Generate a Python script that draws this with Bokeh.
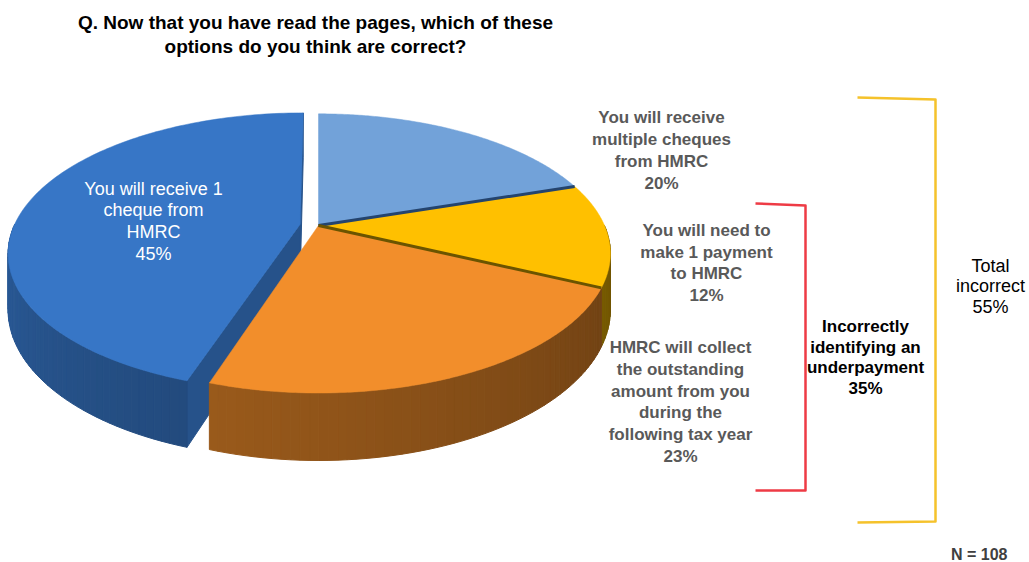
import numpy as np
from bokeh.plotting import figure
from bokeh.models import Range1d, ColumnDataSource
from bokeh.core.properties import value
from bokeh.embed import file_html
from bokeh.resources import INLINE

# ---------------- data ----------------
# slices in clockwise order starting at 12 o'clock
slice_names = [
    "You will receive multiple cheques from HMRC",
    "You will need to make 1 payment to HMRC",
    "HMRC will collect the outstanding amount from you during the following tax year",
    "You will receive 1 cheque from HMRC",
]
slice_pct = [20, 12, 23, 45]
slice_top_colors = ["#72A2D9", "#FFC000", "#F28E2B", "#3776C6"]
slice_explode = [0.0, 0.0, 0.0, 0.065]

label_lines = [
    ["You will receive", "multiple cheques", "from HMRC", "20%"],
    ["You will need to", "make 1 payment", "to HMRC", "12%"],
    ["HMRC will collect", "the outstanding", "amount from you", "during the", "following tax year", "23%"],
    ["You will receive 1", "cheque from", "HMRC", "45%"],
]

title_lines = ["Q. Now that you have read the pages, which of these", "options do you think are correct?"]
group1_lines = ["Incorrectly", "identifying an", "underpayment", "35%"]
group2_lines = ["Total", "incorrect", "55%"]
base_note = "N = 108"

# ---------------- layout / style ----------------
W, H = 1029, 562
cx, cy0, A, B, K, D = 318, 225, 286, 134, 0.2, 54   # 3D pie projection
label_pos = [(661, 117, 22), (706, 230, 21.5), (680, 347, 21.8), (153, 188, 21.7)]
label_colors = ["#595959", "#595959", "#595959", "#FFFFFF"]
label_styles = ["bold", "bold", "bold", "normal"]
label_sizes = ["17px", "17px", "17px", "18px"]
FONT = value("Liberation Sans")

p = figure(width=W, height=H, x_range=Range1d(0, W), y_range=Range1d(H, 0),
           output_backend="svg", toolbar_location=None, min_border=0)
p.axis.visible = False
p.grid.visible = False
p.outline_line_color = None
p.background_fill_color = "white"
p.border_fill_color = "white"


def shade(hexcol, f):
    r, g, b = int(hexcol[1:3], 16), int(hexcol[3:5], 16), int(hexcol[5:7], 16)
    return "#%02x%02x%02x" % (int(r * f), int(g * f), int(b * f))


def proj(X, Y, z=0.0):
    s = 1.0 / (1.0 + K * Y)
    return cx + A * X * s, cy0 - B * Y * s + D * z * s


def rim(theta, dX, dY):
    t = np.radians(theta)
    return np.cos(t) + dX, np.sin(t) + dY


# angular extents
angles = []
start = 90.0
for v in slice_pct:
    t1 = start
    t2 = start - v * 3.6
    angles.append((t2, t1))
    start = t2

offsets = []
for (t2, t1), e in zip(angles, slice_explode):
    mid = np.radians((t1 + t2) / 2)
    offsets.append((e * np.cos(mid), e * np.sin(mid)))

# --- side pieces: radial cut faces of exploded slices + outer wall strips ---
pieces = []  # (depth key, xs, ys, color)
for i, ((t2, t1), (dX, dY)) in enumerate(zip(angles, offsets)):
    if slice_explode[i] > 0:
        for th in (t1, t2):
            RX, RY = rim(th, dX, dY)
            p0 = proj(dX, dY, 0); p1 = proj(RX, RY, 0)
            p2 = proj(RX, RY, 1); p3 = proj(dX, dY, 1)
            pieces.append(((dY + RY) / 2, [p0[0], p1[0], p2[0], p3[0]],
                           [p0[1], p1[1], p2[1], p3[1]], shade(slice_top_colors[i], 0.70)))
    for lo, hi in ((-180, 0), (-540, -360)):
        a0, a1 = max(t2, lo), min(t1, hi)
        if a1 <= a0:
            continue
        n = max(2, int((a1 - a0) / 1.5) + 1)
        ths = np.linspace(a0, a1, n)
        for j in range(n - 1):
            ta, tb = ths[j], ths[j + 1]
            XA, YA = rim(ta, dX, dY)
            XB, YB = rim(tb, dX, dY)
            q0 = proj(XA, YA, 0); q1 = proj(XB, YB, 0)
            q2 = proj(XB, YB, 1); q3 = proj(XA, YA, 1)
            f = 0.78 - 0.36 * (((ta + tb) / 2) - lo) / 180.0
            pieces.append(((YA + YB) / 2, [q0[0], q1[0], q2[0], q3[0]],
                           [q0[1], q1[1], q2[1], q3[1]], shade(slice_top_colors[i], f)))

pieces.sort(key=lambda t: -t[0])
p.patches(xs="xs", ys="ys", fill_color="c", line_color="c", line_width=1,
          source=ColumnDataSource(dict(xs=[q[1] for q in pieces],
                                       ys=[q[2] for q in pieces],
                                       c=[q[3] for q in pieces])))

# --- top faces ---
tx, ty = [], []
for i, ((t2, t1), (dX, dY)) in enumerate(zip(angles, offsets)):
    ths = np.linspace(t1, t2, 140)
    ap = proj(dX, dY, 0)
    pts = [proj(*rim(t, dX, dY), 0) for t in ths]
    tx.append([ap[0]] + [q[0] for q in pts])
    ty.append([ap[1]] + [q[1] for q in pts])
p.patches(xs="xs", ys="ys", fill_color="c", line_color="c", line_width=0.5,
          source=ColumnDataSource(dict(xs=tx, ys=ty, c=slice_top_colors)))

# --- dark seams between adjoining (non-exploded) slices ---
seam_cols = ["#24446E", "#6B5400"]
for k in range(2):
    th = angles[k][0]
    c0 = proj(0, 0, 0)
    r1 = proj(*rim(th, 0, 0), 0)
    p.line(x=[c0[0], r1[0]], y=[c0[1], r1[1]], line_color=seam_cols[k], line_width=3)

# ---------------- labels ----------------
for lines, (lx, ly, sp), col, sty, fs in zip(label_lines, label_pos, label_colors,
                                             label_styles, label_sizes):
    p.text(x=[lx] * len(lines), y=[ly + sp * k for k in range(len(lines))], text=lines,
           text_align="center", text_baseline="middle", text_color=col,
           text_font=FONT, text_font_style=sty, text_font_size=fs)

p.text(x=[315, 315], y=[22, 46], text=title_lines, text_align="center",
       text_baseline="middle", text_color="#000000", text_font=FONT,
       text_font_style="bold", text_font_size="19px")

p.text(x=[865] * 4, y=[326 + 20.5 * k for k in range(4)], text=group1_lines,
       text_align="center", text_baseline="middle", text_color="#000000",
       text_font=FONT, text_font_style="bold", text_font_size="17px")

p.text(x=[990] * 3, y=[265 + 20.5 * k for k in range(3)], text=group2_lines,
       text_align="center", text_baseline="middle", text_color="#000000",
       text_font=FONT, text_font_style="normal", text_font_size="18px")

p.text(x=[1007], y=[554], text=[base_note], text_align="right",
       text_baseline="middle", text_color="#404040", text_font=FONT,
       text_font_style="bold", text_font_size="16px")

# ---------------- brackets ----------------
p.line(x=[755, 805, 805, 755], y=[203, 205, 490, 490], line_color="#EE3B45",
       line_width=2.5, line_join="round")
p.line(x=[857, 935, 935, 857], y=[97, 99, 521, 522], line_color="#F5C22B",
       line_width=2.5, line_join="round")

open("out.html", "w").write(file_html(p, INLINE))
